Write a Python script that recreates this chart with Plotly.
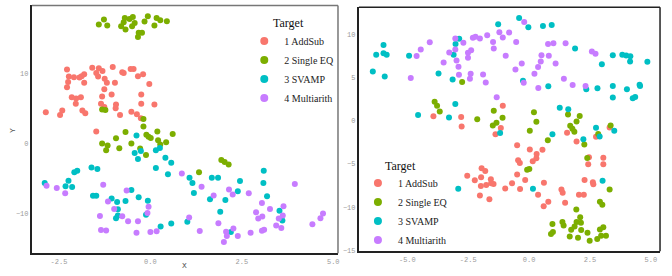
import plotly.graph_objects as go

categories = ["1 AddSub", "2 Single EQ", "3 SVAMP", "4 Multiarith"]
colors = ["#F8766D", "#7CAE00", "#00BFC4", "#C77CFF"]
legend_title = "Target"

# ---------------- Left panel ----------------
left_addsub_x = [-2.86, -2.47, -2.41, -2.28, -2.23, -2.25, -2.28, -2.09, -1.94, -1.88, -1.81, -1.81,
                 -2.15, -2.03, -2.04, -1.90, -1.86, -1.78, -1.59, -1.48, -1.41, -1.43, -1.31, -1.25,
                 -1.19, -1.26, -1.32, -1.35, -1.26, -1.48, -1.03, -0.97, -1.06, -0.94, -0.95, -0.83,
                 -0.77, -0.73, -0.54, -0.46, -0.34, -0.20, -0.03, -0.25, -0.25, -0.52, -0.37, -0.26, 0.11]
left_addsub_y = [4.47, 4.10, 4.75, 10.56, 9.58, 8.78, 8.03, 9.48, 9.44, 9.62, 9.91, 8.69,
                 6.63, 6.44, 5.69, 6.63, 4.75, 4.33, 10.84, 10.09, 10.75, 9.58, 10.37, 9.25,
                 8.69, 7.75, 6.72, 5.69, 5.22, 1.76, 10.93, 8.69, 7.00, 5.60, 5.04, 4.10,
                 10.19, 10.09, 10.66, 10.66, 9.62, 9.91, 8.50, 7.00, 5.69, 4.57, 4.19, 3.63, 5.60]

left_singleeq_x = [-1.41, -1.27, -1.18, -0.80, -0.73, -0.70, -0.68, -0.57, -0.48, -0.43, -0.50, -0.34,
                   -0.32, -0.23, -0.16, -0.07, 0.11, 0.17, 0.27, 0.45,
                   -1.32, -1.23, -0.19, -0.19, -0.68, -0.94, -1.32, -1.17, -1.21, -0.85, -0.52, -0.28,
                   -0.12, -0.11, -0.05, 0.01, 0.19, 0.21, 0.27, 0.43, 0.61, 1.33, 1.94, 2.03, 2.14]
left_singleeq_y = [16.98, 17.68, 16.84, 16.74, 17.31, 17.92, 16.28, 17.77, 18.06, 17.21, 16.74, 15.20,
                   15.81, 15.81, 17.40, 18.15, 16.84, 17.92, 17.59, 17.45,
                   4.89, 4.80, 3.54, 2.46, 1.66, 0.77, 0.02, -0.26, -0.91, -0.63, 0.02, -0.68,
                   -1.62, 1.29, 1.01, 0.82, 1.76, 0.49, -0.12, 0.21, 1.38, -4.05, -2.32, -2.60, -2.97]

left_svamp_x = [-2.89, -2.32, -2.24, -2.14, -2.08, -2.00, -1.61, -1.45, -1.57, -1.48, -1.06, -0.91,
                -0.68, -0.89, -0.94, -0.89, -0.52, -0.32, -0.07, -0.12, -0.38, -0.43, -0.34, -0.26,
                0.15, 0.26, 0.41, 0.57, 0.15, 0.48, 0.28, 0.57, 1.01, 1.07, 1.15, 1.19,
                1.68, 1.85, 1.63, 1.91, 2.05, 2.20, 2.39, 2.45, 3.10, 3.09, 3.19, 3.53, 3.61]
left_svamp_y = [-5.60, -6.06, -5.27, -6.16, -4.05, -3.86, -3.40, -3.58, -7.42, -7.42, -7.80, -8.31,
                -8.17, -9.34, -10.61, -10.23, -6.58, -7.61, -8.13, -10.10, 1.19, -1.33, -2.18, -1.05,
                -0.91, -0.59, -1.99, -2.69, -3.44, -4.33, -11.78, -11.36, -11.12, -4.85, -5.60, -7.00,
                -4.85, -4.85, -7.89, -9.67, -8.03, -12.58, -6.77, -5.32, -3.86, -5.60, -7.49, -9.53, -10.94]

left_multiarith_x = [-2.84, -2.56, -2.33, -1.29, -1.16, -1.38, -1.35, -1.21, -0.99, -0.77, -0.61, -0.65,
                     -0.34, -0.38, -0.05, -0.08, 0.00, 0.17, 0.86, 1.06, 1.40, 1.35, 1.73, 1.86,
                     2.01, 2.07, 2.09, 2.27, 2.15, 2.25, 2.39, 2.69, 2.74, 2.89, 2.95, 3.06,
                     3.05, 3.05, 3.11, 3.27, 3.44, 3.51, 3.58, 3.62, 3.64, 3.95, 4.43, 4.65, 4.72]
left_multiarith_y = [-5.97, -6.30, -7.05, -5.83, -8.22, -10.28, -12.30, -12.34, -9.30, -10.33, -11.03, -6.67,
                     -11.03, -12.67, -8.99, -9.88, -12.58, -12.48, -4.24, -10.52, -6.11, -12.44, -7.38, -11.31,
                     -13.98, -12.53, -13.14, -12.06, -6.53, -7.24, -13.14, -7.05, -12.67, -9.77, -10.66, -10.37,
                     -8.45, -12.39, -12.25, -9.30, -11.64, -10.66, -12.01, -10.23, -8.92, -5.74, -11.45, -10.61, -9.95]

# ---------------- Right panel ----------------
right_addsub_x = [-3.93, -2.79, -2.77, -1.38, -1.16, -1.08, -0.49, -0.45, -0.38, 0.03, 0.15, 0.30,
                  0.31, 0.55, -0.49, -0.16, -0.37, 0.37, 0.61, 0.79, 0.60, 1.56, 1.95, 2.43,
                  2.46, 3.05, 3.05, 3.31, 2.75, 2.28, 2.62, 2.64, 1.33, 1.38, 1.48, 2.05,
                  2.25, -2.54, -2.23, -1.95, -1.80, -1.97, -1.98, -2.02, -1.76, -1.63, -1.57, -1.56,
                  -1.46, -0.98, -0.70]
right_addsub_y = [0.52, 0.44, -0.66, -1.57, -0.85, 1.73, -2.82, -4.57, -4.87, -3.31, -4.68, -4.34,
                  -3.85, -3.36, -6.20, -6.84, -7.89, -8.55, -7.15, -9.35, -9.88, -1.38, -2.41, -5.02,
                  -4.23, -4.27, -5.02, -0.77, -1.84, -6.84, -7.11, -7.34, -7.95, -8.33, -9.47, -8.55,
                  -8.55, -6.35, -6.88, -5.48, -5.82, -6.54, -7.53, -8.63, -7.42, -9.06, -6.76, -7.21,
                  -7.32, -7.83, -7.21]

right_singleeq_x = [-3.88, -3.78, -3.67, -2.75, -2.13, -1.45, -1.09, -1.49, -1.34, 0.20, 0.30, 0.03,
                    0.77, 1.60, 1.69, 1.78, 1.86, 1.95, 2.08, 2.27, 2.39, 3.35, 2.84, -0.08,
                    0.01, 3.31, 2.91, 3.01, 1.94, 2.10, 1.95, 2.13, 1.37, 1.42, 0.96, 0.90,
                    0.98, 1.73, 1.87, 1.67, 2.01, 2.14, 2.40, 2.49, 2.80, 2.91, 3.05, 3.16, 2.96]
right_singleeq_y = [2.19, 1.73, 1.05, 4.46, 0.17, 1.16, 0.33, -0.55, -0.24, 0.97, -0.13, -1.15,
                    -2.25, 0.71, -0.58, -0.93, -1.27, -0.09, 0.55, -2.75, -4.30, -0.55, -1.53, -5.67,
                    -5.59, -7.94, -9.35, -9.69, -10.26, -11.14, -11.71, -11.78, -11.71, -12.09, -11.94, -13.07,
                    -12.84, -12.58, -12.23, -13.37, -13.52, -12.61, -12.95, -13.86, -13.67, -12.57, -12.31, -13.29, -13.29]

right_svamp_x = [-6.42, -6.28, -5.98, -5.98, -5.85, -5.93, -4.93, -4.56, -3.72, -3.29, -3.14, -3.10,
                 -3.03, -3.02, -2.87, -2.91, -1.27, -1.19, -0.41, -0.03, -0.25, 0.16, 0.57, 0.93,
                 0.79, 0.96, 1.26, 1.61, 1.89, 2.23, 2.35, 2.75, 2.81, 2.90, 2.99, 3.44,
                 3.44, 3.44, 3.83, 3.99, 4.16, 4.15, 4.02, 4.26, 4.36, 4.54, 4.56, 4.86, 3.02, 3.50]
right_svamp_y = [5.68, 7.61, 8.75, 7.80, 7.61, 5.11, 7.49, 0.67, 5.45, 0.36, 4.76, 7.61,
                 1.92, 8.86, 9.47, -7.87, 11.14, -1.42, 11.86, 10.80, 4.61, -7.87, 10.95, 11.06,
                 3.97, -1.57, 1.50, 1.31, 8.33, -2.14, 3.63, -0.81, 3.74, -1.83, 6.51, 7.57,
                 4.01, 2.68, 7.61, 7.53, 7.45, 6.85, 3.63, 2.60, 2.75, 4.16, 4.01, 6.81, -6.92, -1.15]

right_multiarith_x = [-4.86, -4.62, -4.45, -4.08, -3.51, -3.28, -3.03, -3.03, -2.98, -2.90, -2.70, -2.88,
                      -2.51, -2.51, -2.38, -2.40, -2.43, -2.31, -2.20, -2.02, -1.89, -1.78, -1.72, -1.48,
                      -1.45, -1.33, -1.22, -1.08, -0.96, -0.82, -0.53, -0.56, -0.30, -0.20, -0.22, 0.22,
                      0.37, 0.38, 0.48, 0.51, 0.78, 0.81, 1.00, 1.09, 1.43, 1.50, 1.79, 2.32, 2.58, 2.73]
right_multiarith_y = [4.92, 7.46, 8.21, 9.05, 6.71, 7.88, 8.21, 9.50, 6.96, 6.24, 9.01, 5.30,
                      7.27, 7.84, 8.14, 5.41, 4.84, 9.58, 9.69, 9.50, 5.34, 4.42, 9.88, 9.09,
                      8.33, 2.72, 10.22, 9.62, 7.49, 10.19, 9.09, 5.90, 6.62, 11.40, 4.39, 5.41,
                      6.21, 3.78, 6.85, 7.57, 8.86, 7.49, 8.94, 6.62, 4.84, 8.94, 4.12, 4.01, 7.99, 7.72]

left_xticks = [-2.5, 0.0, 2.5, 5.0]
left_yticks = [-10, 0, 10]
right_xticks = [-5.0, -2.5, 0.0, 2.5, 5.0]
right_yticks = [-15, -10, -5, 0, 5, 10]

left_series = [(left_addsub_x, left_addsub_y), (left_singleeq_x, left_singleeq_y),
               (left_svamp_x, left_svamp_y), (left_multiarith_x, left_multiarith_y)]
right_series = [(right_addsub_x, right_addsub_y), (right_singleeq_x, right_singleeq_y),
                (right_svamp_x, right_svamp_y), (right_multiarith_x, right_multiarith_y)]

W, H = 672, 276
fig = go.Figure()

for i, (xs, ys) in enumerate(left_series):
    fig.add_trace(go.Scatter(x=xs, y=ys, mode="markers", xaxis="x", yaxis="y",
                             marker=dict(color=colors[i], size=6, line=dict(width=0)),
                             showlegend=False, hoverinfo="skip"))
for i, (xs, ys) in enumerate(right_series):
    fig.add_trace(go.Scatter(x=xs, y=ys, mode="markers", xaxis="x2", yaxis="y2",
                             marker=dict(color=colors[i], size=6, line=dict(width=0)),
                             showlegend=False, hoverinfo="skip"))

# legend entries
for i, name in enumerate(categories):
    fig.add_trace(go.Scatter(x=[None], y=[None], mode="markers", xaxis="x", yaxis="y",
                             name=name, legend="legend",
                             marker=dict(color=colors[i], size=8)))
    fig.add_trace(go.Scatter(x=[None], y=[None], mode="markers", xaxis="x2", yaxis="y2",
                             name=name, legend="legend2",
                             marker=dict(color=colors[i], size=8)))

tickfont = dict(family="Liberation Mono, DejaVu Sans Mono, monospace", size=7, color="#9a9a9a")
serif = "Liberation Serif, DejaVu Serif, serif"
legfont = dict(family=serif, size=10, color="#222")

fig.update_layout(
    width=W, height=H,
    margin=dict(l=0, r=0, t=0, b=0),
    paper_bgcolor="white", plot_bgcolor="white",
    hovermode=False,
    xaxis=dict(domain=[32/W, 339/W], range=[-3.24, 5.13], tickvals=left_xticks,
               ticktext=[f"{v:.1f}" for v in left_xticks], tickfont=tickfont,
               showgrid=False, zeroline=False, showline=True, linecolor="#222", linewidth=2,
               ticks="", anchor="y"),
    yaxis=dict(domain=[1-257/H, 1-5.5/H], range=[-15.6, 19.7], tickvals=left_yticks,
               tickfont=tickfont, showgrid=False, zeroline=False, showline=True,
               linecolor="#222", linewidth=2, ticks="", anchor="x"),
    xaxis2=dict(domain=[360/W, 662/W], range=[-6.99, 5.38], tickvals=right_xticks,
                ticktext=[f"{v:.1f}" for v in right_xticks], tickfont=tickfont,
                showgrid=False, zeroline=False, showline=True, linecolor="#222", linewidth=2,
                ticks="", anchor="y2"),
    yaxis2=dict(domain=[1-255/H, 1-7.3/H], range=[-15.08, 13.11], tickvals=right_yticks,
                tickfont=tickfont, showgrid=False, zeroline=False, showline=True,
                linecolor="#222", linewidth=2, ticks="", anchor="x2"),
    legend=dict(x=245/W, y=1-27/H, xanchor="left", yanchor="top", bgcolor="rgba(0,0,0,0)",
                font=legfont, itemwidth=30, tracegroupgap=0),
    legend2=dict(x=359/W, y=1-171/H, xanchor="left", yanchor="top", bgcolor="rgba(0,0,0,0)",
                 font=legfont, itemwidth=30, tracegroupgap=0),
    shapes=[
        dict(type="line", xref="x domain", yref="y domain", x0=0, x1=1, y0=1, y1=1,
             line=dict(color="#777", width=1.5), layer="above"),
        dict(type="line", xref="x domain", yref="y domain", x0=1, x1=1, y0=0, y1=1,
             line=dict(color="#777", width=1.5), layer="above"),
        dict(type="line", xref="x2 domain", yref="y2 domain", x0=0, x1=1, y0=1, y1=1,
             line=dict(color="#222", width=1.5), layer="above"),
        dict(type="line", xref="x2 domain", yref="y2 domain", x0=1, x1=1, y0=0, y1=1,
             line=dict(color="#222", width=1.5), layer="above"),
    ],
    annotations=[
        dict(text="X", x=185/W, y=1-269/H, xref="paper", yref="paper", showarrow=False,
             xanchor="center", yanchor="middle",
             font=dict(family="Liberation Mono, monospace", size=8, color="#555")),
        dict(text="Y", x=12/W, y=1-132/H, xref="paper", yref="paper", showarrow=False,
             xanchor="center", yanchor="middle", textangle=-90,
             font=dict(family="Liberation Mono, monospace", size=8, color="#555")),
        dict(text=legend_title, x=289/W, y=1-23/H, xref="paper", yref="paper", showarrow=False,
             xanchor="center", yanchor="middle",
             font=dict(family=serif, size=12, color="#111")),
        dict(text=legend_title, x=402/W, y=1-168/H, xref="paper", yref="paper", showarrow=False,
             xanchor="center", yanchor="middle",
             font=dict(family=serif, size=12, color="#111")),
    ],
)

fig.write_html("out.html", config={"displayModeBar": False},
               post_script="document.body.style.margin='0';")
